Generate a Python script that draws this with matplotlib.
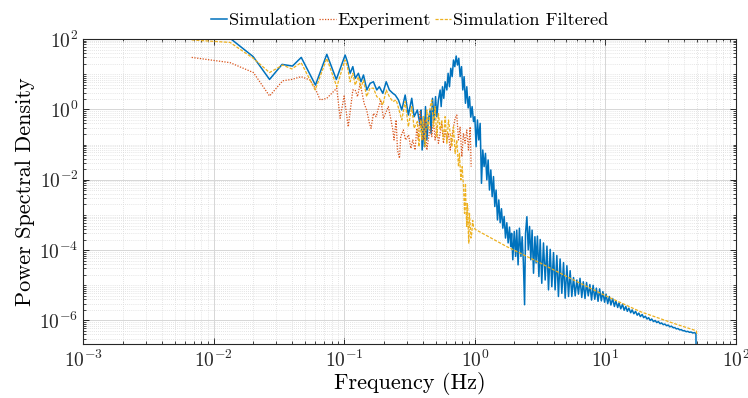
import matplotlib
matplotlib.use("Agg")
import matplotlib.pyplot as plt
import numpy as np
from matplotlib.ticker import LogLocator, NullFormatter

plt.rcParams.update({
    "font.family": "cmr10",
    "mathtext.fontset": "cm",
    "axes.unicode_minus": False,
    "axes.formatter.use_mathtext": True,
})

# ---- Simulation PSD -------------------------------------------------------
sim_freq = [
    0.00667, 0.0133, 0.0200, 0.0267, 0.0333, 0.0400, 0.0467, 0.0600, 0.0733, 0.0867,
    0.1013, 0.1054, 0.1106, 0.1160, 0.1210, 0.1280, 0.1340, 0.1400, 0.1486, 0.1574,
    0.1668, 0.1770, 0.1850, 0.1970, 0.2090, 0.2210, 0.2350, 0.2450, 0.2596, 0.2750,
    0.2920, 0.3090, 0.3280, 0.3420, 0.3620, 0.3800, 0.3870, 0.3940, 0.4030, 0.4100,
    0.4180, 0.4280, 0.4400, 0.4540, 0.4610, 0.4730, 0.4870, 0.4990, 0.5100, 0.5250,
    0.5410, 0.5510, 0.5640, 0.5770, 0.5910, 0.6090, 0.6230, 0.6380, 0.6530, 0.6690,
    0.6850, 0.7010, 0.7180, 0.7350, 0.7520, 0.7700, 0.7890, 0.8070, 0.8260, 0.8460,
    0.8660, 0.8870, 0.9080, 0.9290, 0.9510, 0.9750, 0.9980, 1.021, 1.045, 1.070,
    1.096, 1.122, 1.148, 1.175, 1.204, 1.233, 1.262, 1.292, 1.323, 1.355,
    1.387, 1.419, 1.452, 1.488, 1.523, 1.560, 1.597, 1.635, 1.674, 1.714,
    1.754, 1.796, 1.840, 1.880, 1.910, 1.950, 2.000, 2.050, 2.090, 2.140,
    2.190, 2.250, 2.300, 2.350, 2.400, 2.440, 2.500, 2.560, 2.620, 2.680,
    2.740, 2.810, 2.880, 2.940, 3.010, 3.090, 3.160, 3.250, 3.350, 3.450,
    3.560, 3.660, 3.770, 3.880, 4.000, 4.110, 4.240, 4.360, 4.490, 4.630,
    4.770, 4.910, 5.060, 5.210, 5.360, 5.520,
    5.69, 5.86, 6.03, 6.21, 6.38, 6.58, 6.76, 6.97, 7.16, 7.38,
    7.59, 7.82, 8.04, 8.28, 8.51, 8.77, 9.02, 9.29, 9.55, 9.84,
    10.1, 10.4, 10.7, 11.0, 11.35, 11.7, 12.0, 12.4, 12.7, 13.1,
    13.5, 13.9, 14.3, 14.7, 15.1, 15.6, 16.0, 16.5, 17.0, 17.5,
    18.0, 18.5, 19.1, 19.6, 20.2, 20.8, 21.4, 22.0, 22.6, 23.3,
    24.0, 24.7, 25.4, 26.2, 26.9, 27.7, 28.5, 29.4, 30.2, 31.1,
    32.0, 33.0, 33.9, 34.9, 35.9, 37.0, 38.0, 39.2, 40.3, 41.5,
    42.7, 44.0, 45.2, 46.6, 47.9, 49.3, 50.0,
]
sim_psd = [
    110, 105, 31.6, 7.1, 19, 17, 30, 4.9, 36.7, 7.1,
    35, 22.6, 10.6, 16.4, 7.6, 10.6, 6.1, 9.5, 3.56, 5.5,
    6.1, 3.56, 4.4, 2.86, 6.1, 3.56, 2.86, 2.56, 1.85, 0.96,
    2.56, 0.69, 2.07, 0.62, 0.96, 0.36, 0.96, 0.07, 0.62, 0.087,
    1.2, 0.135, 0.50, 0.96, 0.21, 2.06, 0.5, 2.3, 0.62, 1.85,
    3.56, 1.2, 4.4, 2.06, 6.1, 3.56, 10.6, 4.4, 14.7, 8.5,
    25.3, 16.4, 32.9, 18.2, 28.3, 8.5, 16.4, 3.56, 8.5, 1.49,
    4.4, 1.1, 2.3, 0.6, 1.2, 0.45, 0.62, 0.087, 0.5, 0.135,
    0.40, 0.0079, 0.07, 0.0236, 0.056, 0.0099, 0.0365, 0.0051, 0.019, 0.0033,
    0.0123, 0.00173, 0.0051, 0.00072, 0.00267, 6.0e-4, 1.5e-3, 4.2e-4, 9.0e-4, 2.2e-4,
    6.0e-4, 1.6e-4, 4.5e-4, 1.26e-4, 3.0e-4, 5.3e-5, 3.4e-4, 6.6e-5, 3.7e-4, 3.8e-5,
    4.2e-4, 6.6e-5, 2.4e-4, 4.3e-5, 2.8e-6, 3.0e-4, 8.9e-4, 1.02e-4, 4.7e-4, 5.3e-5,
    3.7e-4, 2.2e-5, 2.4e-4, 4.3e-5, 2.5e-4, 1.77e-5, 2.0e-4, 1.14e-5, 1.6e-4, 1.41e-5,
    1.3e-4, 7.4e-6, 1.05e-4, 9.1e-6, 8.5e-5, 7.4e-6, 7.0e-5, 4.8e-6, 5.6e-5, 5.9e-6,
    4.4e-5, 4.3e-6, 3.6e-5, 4.8e-6, 2.6e-5, 4.8e-6,
    1.66e-5, 5.0e-6, 1.41e-5, 5.6e-6, 1.58e-5, 4.5e-6, 1.26e-5, 4.2e-6, 1.2e-5, 5.0e-6,
    1.05e-5, 3.8e-6, 1.0e-5, 4.0e-6, 8.3e-6, 3.5e-6, 7.9e-6, 3.6e-6, 6.6e-6, 3.3e-6,
    5.6e-6, 3.0e-6, 4.8e-6, 2.75e-6, 4.2e-6, 2.5e-6, 3.6e-6, 2.34e-6, 3.16e-6, 2.14e-6,
    2.9e-6, 1.95e-6, 2.5e-6, 1.82e-6, 2.24e-6, 1.66e-6, 2.0e-6, 1.55e-6, 1.82e-6, 1.41e-6,
    1.62e-6, 1.29e-6, 1.48e-6, 1.2e-6, 1.32e-6, 1.1e-6, 1.2e-6, 1.0e-6, 1.1e-6, 9.3e-7,
    1.0e-6, 8.7e-7, 9.3e-7, 8.1e-7, 8.5e-7, 7.6e-7, 7.9e-7, 7.1e-7, 7.4e-7, 6.6e-7,
    6.9e-7, 6.2e-7, 6.3e-7, 5.75e-7, 5.9e-7, 5.4e-7, 5.5e-7, 5.1e-7, 5.1e-7, 4.8e-7,
    4.9e-7, 4.6e-7, 4.7e-7, 4.4e-7, 4.5e-7, 4.3e-7, 1e-9,
]

# ---- Experiment PSD -------------------------------------------------------
exp_freq = [
    0.00676, 0.0133, 0.0201, 0.0267, 0.0337, 0.0395, 0.0466, 0.0546, 0.0597, 0.0652,
    0.0733, 0.0874, 0.0927, 0.0995, 0.107, 0.116, 0.121, 0.126, 0.132, 0.1415,
    0.148, 0.1555, 0.160, 0.1668, 0.175, 0.182, 0.190, 0.199, 0.209, 0.217,
    0.226, 0.235, 0.240, 0.249, 0.255, 0.264, 0.270, 0.283, 0.294, 0.310,
    0.323, 0.334, 0.348, 0.358, 0.368, 0.380, 0.403, 0.415, 0.428, 0.454,
    0.467, 0.481, 0.495, 0.510, 0.525, 0.541, 0.557, 0.574, 0.591, 0.609,
    0.627, 0.646, 0.665, 0.685, 0.705, 0.726, 0.748, 0.770, 0.793, 0.817,
    0.841, 0.866, 0.892, 0.919, 0.935,
]
exp_psd = [
    30, 21.3, 11.1, 2.4, 6.5, 7.1, 8.5, 6.8, 4.0, 1.85,
    2.06, 4.0, 0.56, 2.4, 0.32, 3.56, 3.56, 2.3, 5.5, 1.49,
    0.96, 0.40, 0.29, 0.77, 0.62, 1.07, 1.85, 0.56, 0.86, 1.2,
    0.56, 0.26, 0.135, 0.5, 0.070, 0.041, 0.168, 0.26, 0.135, 0.187,
    0.078, 0.135, 0.070, 0.29, 0.135, 0.86, 0.135, 0.50, 0.070, 0.32,
    0.168, 0.50, 0.135, 0.32, 0.109, 0.21, 0.40, 0.109, 0.26, 0.135,
    0.21, 0.070, 0.168, 0.32, 0.56, 0.69, 0.135, 0.32, 0.045, 0.21,
    0.109, 0.26, 0.070, 0.32, 0.0236,
]

# ---- Filtered simulation PSD ----------------------------------------------
filt_freq = [
    0.00676, 0.0133, 0.0201, 0.0267, 0.0337, 0.0395, 0.0466, 0.0597, 0.0733, 0.0874,
    0.101, 0.1054, 0.1106, 0.116, 0.121, 0.128, 0.1334, 0.140, 0.148, 0.157,
    0.167, 0.177, 0.185, 0.197, 0.209, 0.221, 0.235, 0.249, 0.260, 0.275,
    0.292, 0.309, 0.328, 0.342, 0.362, 0.372, 0.385, 0.392, 0.403, 0.415,
    0.428, 0.440, 0.454, 0.467, 0.481, 0.495, 0.510, 0.525, 0.541, 0.557,
    0.574, 0.591, 0.609, 0.627, 0.646, 0.665, 0.685, 0.705, 0.726, 0.748,
    0.761, 0.780, 0.798, 0.817, 0.832, 0.846, 0.856, 0.866, 0.874, 0.881,
    0.889, 0.897, 0.908, 0.919, 0.932, 0.946, 0.960, 0.975, 1.003, 1.75,
    3.16, 5.7, 10.3, 18.5, 33.2, 49.6, 50.0,
]
filt_psd = [
    94, 80, 28, 11.1, 18.2, 14.1, 21.3, 3.56, 28, 4.4,
    25.3, 16.4, 6.1, 10.6, 4.9, 8.5, 4.0, 6.8, 2.3, 4.0,
    4.0, 2.3, 2.06, 1.33, 3.56, 2.3, 1.66, 1.85, 1.07, 0.5,
    1.66, 0.32, 1.2, 0.29, 0.45, 0.087, 0.50, 0.135, 0.62, 0.087,
    0.96, 0.26, 1.2, 1.85, 0.32, 1.2, 0.168, 0.77, 0.26, 0.5,
    0.135, 0.62, 0.109, 0.5, 0.21, 0.087, 0.32, 0.056, 0.135, 0.0236,
    0.056, 0.0099, 0.0236, 0.0064, 0.00111, 0.0079, 0.0012, 0.00047, 0.0021, 0.00173,
    3.5e-4, 1.57e-4, 1.1e-3, 5.8e-4, 2.2e-4, 3.0e-4, 7.0e-4, 4.7e-4, 3.9e-4, 1.26e-4,
    4.3e-5, 1.41e-5, 4.8e-6, 1.78e-6, 8.3e-7, 5.1e-7, 4.2e-7,
]

series_labels = ["Simulation", "Experiment", "Simulation Filtered"]
x_ticks = [1e-3, 1e-2, 1e-1, 1e0, 1e1, 1e2]
y_ticks = [1e-6, 1e-4, 1e-2, 1e0, 1e2]

fig = plt.figure(figsize=(7.48, 3.98), dpi=100)
ax = fig.add_axes([0.1114, 0.1349, 0.8726, 0.7671])

ax.loglog(sim_freq, sim_psd, color="#0072BD", lw=1.1, ls="-", label=series_labels[0])
ax.loglog(exp_freq, exp_psd, color="#D95319", lw=0.9, ls=(0, (1, 1.2)), label=series_labels[1])
ax.loglog(filt_freq, filt_psd, color="#EDB120", lw=0.9, ls=(0, (2.5, 1.2)), label=series_labels[2])

ax.set_xlim(1e-3, 1e2)
ax.set_ylim(2.1e-7, 1e2)
ax.set_xticks(x_ticks)
ax.set_yticks(y_ticks)
ax.xaxis.set_minor_locator(LogLocator(base=10, subs=np.arange(2, 10), numticks=100))
ax.yaxis.set_minor_locator(LogLocator(base=10, subs=np.arange(1, 10), numticks=100))
ax.xaxis.set_minor_formatter(NullFormatter())
ax.yaxis.set_minor_formatter(NullFormatter())

ax.grid(which="major", color="#d6d6d6", lw=0.7, ls="-")
ax.grid(which="minor", color="#dcdcdc", lw=0.6, ls=(0, (1, 1.5)))
ax.set_axisbelow(True)

ax.tick_params(which="both", direction="in", top=True, right=True, colors="#262626")
ax.tick_params(which="major", length=4, width=0.7, labelsize=14)
ax.tick_params(which="minor", length=2.2, width=0.6)
for sp in ax.spines.values():
    sp.set_color("#262626")
    sp.set_linewidth(0.8)

ax.set_xlabel("Frequency (Hz)", fontsize=16, labelpad=1)
ax.set_ylabel("Power Spectral Density", fontsize=16, labelpad=3)

ax.legend(loc="lower center", bbox_to_anchor=(0.5, 1.03), ncol=3, frameon=False,
          fontsize=13.2, handlelength=0.9, handletextpad=0.1, columnspacing=0.2,
          borderaxespad=0.0, borderpad=0.1)

fig.savefig("out.png", dpi=100)
